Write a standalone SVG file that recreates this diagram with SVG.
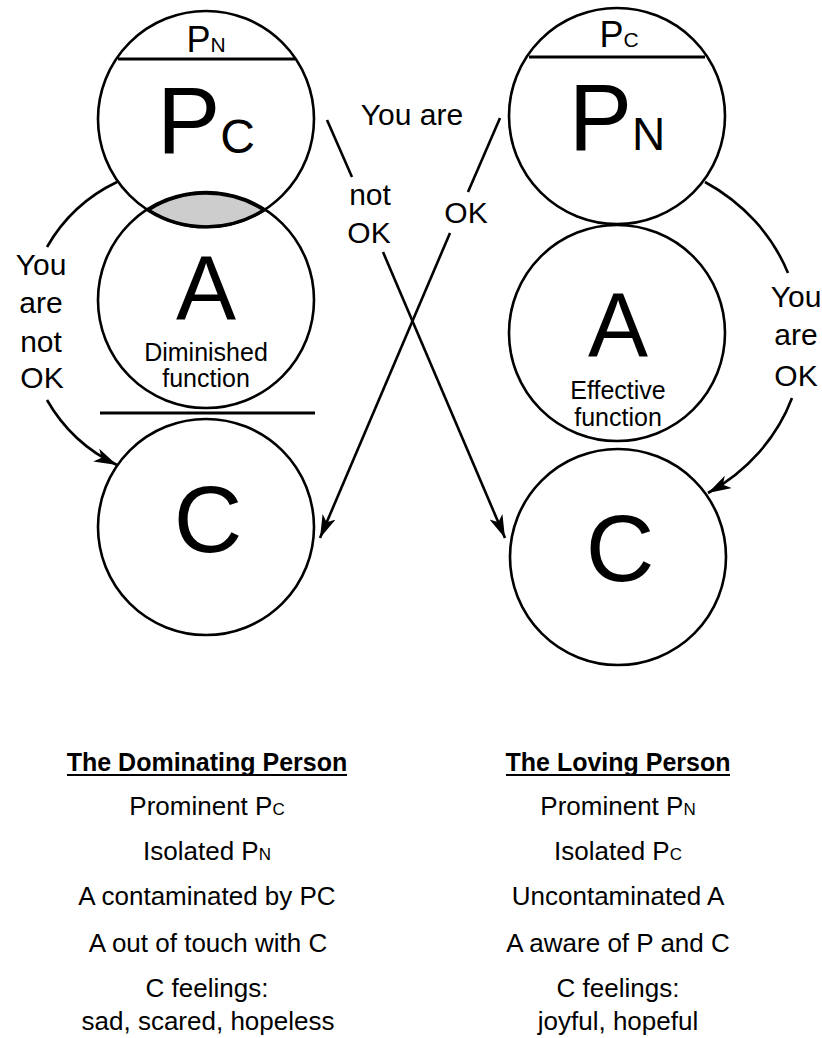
<svg xmlns="http://www.w3.org/2000/svg" width="822" height="1038" viewBox="0 0 822 1038">
<style>
  .c{fill:none;stroke:#000;stroke-width:2.6}
  .ln{fill:none;stroke:#000;stroke-width:2.6}
  .bar{stroke:#000;stroke-width:3.2}
  text{font-family:"Liberation Sans",Arial,sans-serif;fill:#000}
  .big{font-size:95px;text-anchor:middle}
  .bigA{font-size:90px;text-anchor:middle}
  .lbl{font-size:30px;text-anchor:middle}
  .fn{font-size:25px;text-anchor:middle}
  .t{font-size:26px;text-anchor:middle}
  .h{font-size:25px;font-weight:bold;text-anchor:middle}
</style>
<defs>
  <marker id="ah" markerUnits="userSpaceOnUse" markerWidth="26" markerHeight="16" refX="23" refY="7" orient="auto">
    <path d="M0,0 L23,7 L0,14 L6,7 Z" fill="#000"/>
  </marker>
</defs>
<rect width="822" height="1038" fill="#fff"/>

<g id="left-P">
  <path d="M148,210 A108,108 0 0 1 264,210 A108,108 0 0 1 148,210 Z" fill="#cdcdcd" stroke="#000" stroke-width="3.4"/>
  <circle class="c" cx="206" cy="119" r="108"/>
  <line class="bar" x1="118" y1="59" x2="295" y2="59"/>
  <text x="206" y="52" text-anchor="middle"><tspan font-size="36">P</tspan><tspan font-size="21">N</tspan></text>
  <text x="206" y="153" text-anchor="middle"><tspan font-size="95">P</tspan><tspan font-size="48">C</tspan></text>
</g>
<g id="left-A">
  <circle class="c" cx="206" cy="300" r="108"/>
  <text class="bigA" x="206" y="319">A</text>
  <text class="fn" x="206" y="361">Diminished</text>
  <text class="fn" x="206" y="387">function</text>
</g>
<line class="bar" x1="100" y1="413" x2="315" y2="413"/>
<g id="left-C">
  <circle class="c" cx="206" cy="527" r="108"/>
  <text class="big" x="208" y="552">C</text>
</g>

<g id="right-P">
  <circle class="c" cx="617" cy="116" r="108"/>
  <line class="bar" x1="529" y1="57" x2="705" y2="57"/>
  <text x="619" y="47" text-anchor="middle"><tspan font-size="36">P</tspan><tspan font-size="21">C</tspan></text>
  <text x="617" y="150" text-anchor="middle"><tspan font-size="95">P</tspan><tspan font-size="46">N</tspan></text>
</g>
<g id="right-A">
  <circle class="c" cx="617" cy="333" r="108"/>
  <text class="bigA" x="618" y="356">A</text>
  <text class="fn" x="618" y="399">Effective</text>
  <text class="fn" x="618" y="426">function</text>
</g>
<g id="right-C">
  <circle class="c" cx="618" cy="557" r="108"/>
  <text class="big" x="620" y="581">C</text>
</g>

<g id="connectors">
  <path class="ln" d="M117,182 A160,160 0 0 0 47,247"/>
  <path class="ln" d="M47,400 A160,160 0 0 0 117,465" marker-end="url(#ah)"/>
  <path class="ln" d="M705,182 A195,180 0 0 1 788,273"/>
  <path class="ln" d="M792,398 A195,180 0 0 1 708,493" marker-end="url(#ah)"/>
  <line class="ln" x1="327" y1="120" x2="352" y2="177"/>
  <line class="ln" x1="383" y1="252" x2="505" y2="538" marker-end="url(#ah)"/>
  <line class="ln" x1="500" y1="118" x2="468" y2="192"/>
  <line class="ln" x1="450" y1="233" x2="320" y2="538" marker-end="url(#ah)"/>
</g>

<g id="labels">
  <text class="lbl" x="41" y="275">You</text>
  <text class="lbl" x="41" y="313">are</text>
  <text class="lbl" x="41" y="352">not</text>
  <text class="lbl" x="42" y="388">OK</text>
  <text class="lbl" x="412" y="125">You are</text>
  <text class="lbl" x="370" y="205">not</text>
  <text class="lbl" x="369" y="243">OK</text>
  <text class="lbl" x="466" y="223">OK</text>
  <text class="lbl" x="796" y="307">You</text>
  <text class="lbl" x="796" y="345">are</text>
  <text class="lbl" x="796" y="386">OK</text>
</g>

<g id="left-caption">
  <text class="h" x="207" y="771">The Dominating Person</text>
  <line x1="67" y1="775" x2="347" y2="775" stroke="#000" stroke-width="1.8"/>
  <text class="t" x="207" y="815">Prominent P<tspan font-size="17">C</tspan></text>
  <text class="t" x="207" y="860">Isolated P<tspan font-size="17">N</tspan></text>
  <text class="t" x="207" y="905">A contaminated by PC</text>
  <text class="t" x="208" y="952">A out of touch with C</text>
  <text class="t" x="207" y="997">C feelings:</text>
  <text class="t" x="208" y="1030">sad, scared, hopeless</text>
</g>
<g id="right-caption">
  <text class="h" x="618" y="771">The Loving Person</text>
  <line x1="506" y1="775" x2="730" y2="775" stroke="#000" stroke-width="1.8"/>
  <text class="t" x="618" y="815">Prominent P<tspan font-size="17">N</tspan></text>
  <text class="t" x="618" y="860">Isolated P<tspan font-size="17">C</tspan></text>
  <text class="t" x="618" y="905">Uncontaminated A</text>
  <text class="t" x="618" y="952">A aware of P and C</text>
  <text class="t" x="618" y="997">C feelings:</text>
  <text class="t" x="618" y="1030">joyful, hopeful</text>
</g>
</svg>
